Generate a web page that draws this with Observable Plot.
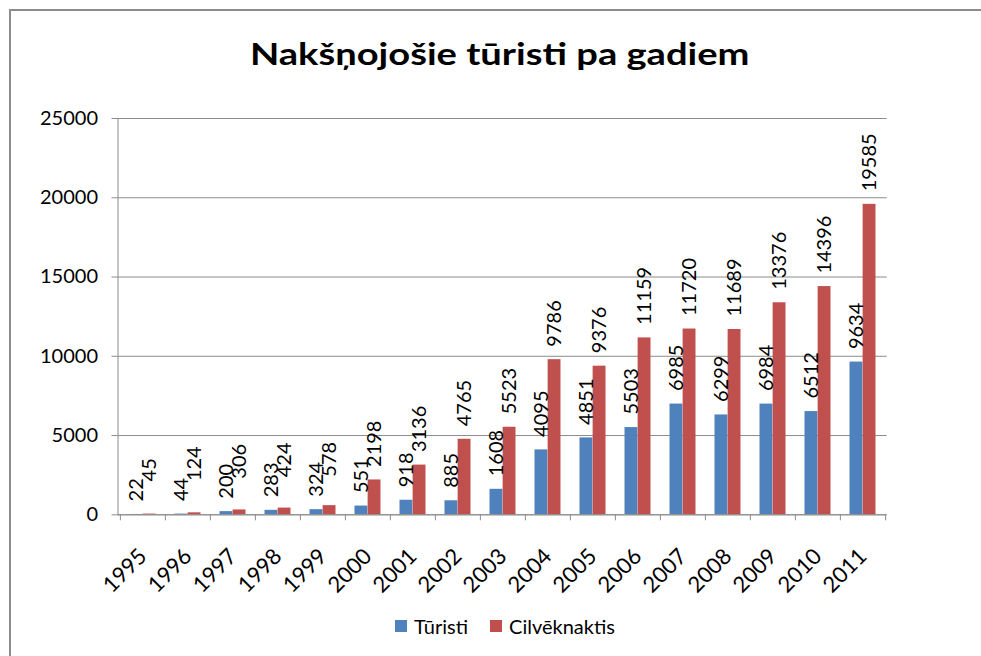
<!DOCTYPE html>
<html>
<head>
<meta charset="utf-8">
<script src="https://cdn.jsdelivr.net/npm/d3@7"></script>
<script src="https://cdn.jsdelivr.net/npm/@observablehq/plot@0.6"></script>
<style>
  html, body { margin: 0; padding: 0; background: #fff; overflow: hidden; }
  #wrap { position: relative; width: 981px; height: 656px; overflow: hidden; font-family: Lato, "Open Sans", sans-serif; color: #000; }
  #frame { position: absolute; left: 9px; top: 9px; width: 1100px; height: 800px; border: 2px solid #8c8c8c; box-sizing: border-box; pointer-events: none; }
  #title { box-sizing: border-box; height: 100px; padding-top: 33px; padding-left: 19px; text-align: center; font-weight: bold; font-size: 30px; line-height: 40px; }
  #title span { display: inline-block; transform: scaleX(1.27); transform-origin: center; }
  #chart svg { display: block; }
  #legend { display: flex; justify-content: center; align-items: center; height: 32px; padding-left: 29px; font-size: 20px; }
  .item { display: flex; align-items: center; margin: 0 11px; }
  .sw { width: 12px; height: 12px; margin-right: 7px; }
</style>
</head>
<body>
<div id="wrap">
  <div id="frame"></div>
  <div id="title"><span>Nakšņojošie tūristi pa gadiem</span></div>
  <div id="chart"></div>
  <div id="legend"></div>
</div>
<script>
// ---- data ----
const years = ["1995","1996","1997","1998","1999","2000","2001","2002","2003","2004","2005","2006","2007","2008","2009","2010","2011"];
const turisti = [22, 44, 200, 283, 324, 551, 918, 885, 1608, 4095, 4851, 5503, 6985, 6299, 6984, 6512, 9634];
const cilveknaktis = [45, 124, 306, 424, 578, 2198, 3136, 4765, 5523, 9786, 9376, 11159, 11720, 11689, 13376, 14396, 19585];
const seriesNames = ["Tūristi", "Cilvēknaktis"];
const yTicks = [0, 5000, 10000, 15000, 20000, 25000];
const colors = ["#4F81BD", "#C0504D"];

// ---- layout ----
const W = 981, H = 510, mL = 117.5, mR = 94.3, mT = 18, mB = 95.7;
const yMax = 25000;
const bw = (W - mL - mR) / years.length;
const unitsPerPx = yMax / (H - mT - mB);
const gridColor = "#8c8c8c";

const rowsT = years.map((y, i) => ({year: y, value: turisti[i]}));
// red labels are lifted when they would collide with the neighbouring blue label (as in the original)
const rowsC = years.map((y, i) => ({year: y, value: cilveknaktis[i], labelAt: Math.max(cilveknaktis[i], turisti[i] + 20 * unitsPerPx)}));

const chart = Plot.plot({
  width: W, height: H,
  marginLeft: mL, marginRight: mR, marginTop: mT, marginBottom: mB,
  style: {fontFamily: "Lato, 'Open Sans', sans-serif", fontSize: "20px", color: "#000", background: "transparent", overflow: "visible"},
  x: {type: "band", domain: years, padding: 0},
  y: {domain: [0, yMax]},
  marks: [
    Plot.gridY(yTicks, {stroke: gridColor, strokeOpacity: 1}),
    Plot.axisY(yTicks, {tickSize: 6, tickPadding: 14, stroke: gridColor, fontSize: 20, label: null, tickFormat: d => String(d)}),
    Plot.barY(rowsT, {x: "year", y: "value", fill: colors[0], insetLeft: bw * 0.21, insetRight: bw * 0.5}),
    Plot.barY(rowsC, {x: "year", y: "value", fill: colors[1], insetLeft: bw * 0.5, insetRight: bw * 0.21}),
    Plot.ruleY([0], {stroke: gridColor}),
    Plot.frame({anchor: "left", stroke: gridColor}),
    Plot.ruleX(years, {x: d => d, y1: 0, y2: 0, insetBottom: -6, dx: -bw / 2, stroke: gridColor}),
    Plot.ruleX([years[years.length - 1]], {x: d => d, y1: 0, y2: 0, insetBottom: -6, dx: bw / 2, stroke: gridColor}),
    Plot.axisX({tickSize: 0, tickRotate: -45, tickPadding: 38, label: null, fontSize: 22}),
    Plot.text(rowsT, {x: "year", y: "value", text: d => String(d.value), rotate: -90, textAnchor: "start", dx: -bw * 0.145, dy: -13, fontSize: 20, fill: "#000"}),
    Plot.text(rowsC, {x: "year", y: "labelAt", text: d => String(d.value), rotate: -90, textAnchor: "start", dx: bw * 0.145, dy: -13, fontSize: 20, fill: "#000"})
  ]
});
document.getElementById("chart").appendChild(chart);

const legend = document.getElementById("legend");
seriesNames.forEach((name, i) => {
  const item = document.createElement("div");
  item.className = "item";
  const sw = document.createElement("div");
  sw.className = "sw";
  sw.style.background = colors[i];
  const label = document.createElement("span");
  label.textContent = name;
  item.appendChild(sw);
  item.appendChild(label);
  legend.appendChild(item);
});
</script>
</body>
</html>
